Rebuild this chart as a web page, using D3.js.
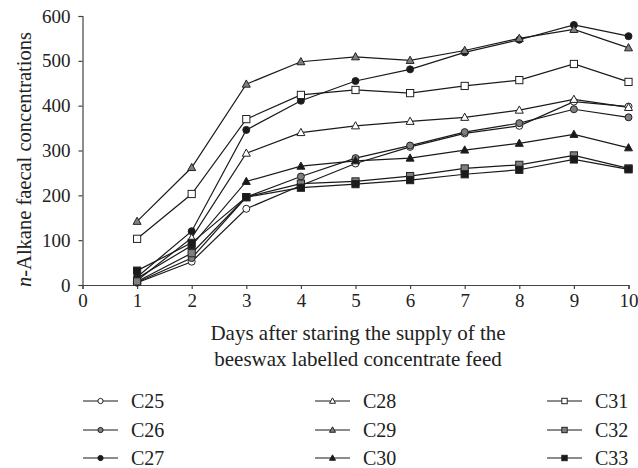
<!DOCTYPE html>
<html><head><meta charset="utf-8">
<script src="https://cdn.jsdelivr.net/npm/d3@7"></script>
<style>
body{margin:0;background:#fff;}
svg{display:block;font-family:"Liberation Serif","DejaVu Serif",serif;}
</style></head>
<body>
<svg id="c" width="638" height="468"></svg>
<script>
const days = [1,2,3,4,5,6,7,8,9,10];
const xTicks = [0,1,2,3,4,5,6,7,8,9,10];
const yTicks = [0,100,200,300,400,500,600];
const seriesNames = ["C25","C26","C27","C28","C29","C30","C31","C32","C33"];
const C25 = [5, 52, 170, 222, 271, 308, 338, 355, 409, 398];
const C26 = [6, 60, 196, 242, 283, 311, 341, 361, 392, 374];
const C27 = [18, 120, 346, 411, 455, 481, 519, 547, 580, 555];
const C28 = [10, 105, 294, 340, 355, 365, 374, 390, 414, 396];
const C29 = [142, 262, 448, 498, 509, 501, 523, 550, 570, 529];
const C30 = [15, 88, 231, 265, 277, 283, 301, 316, 336, 306];
const C31 = [103, 203, 370, 424, 435, 428, 444, 457, 493, 453];
const C32 = [8, 71, 196, 226, 231, 243, 260, 268, 289, 260];
const C33 = [32, 94, 196, 217, 225, 234, 247, 257, 280, 258];
const seriesValues = [C25,C26,C27,C28,C29,C30,C31,C32,C33];

// styles
const shapes = ["circle","circle","circle","triangle","triangle","triangle","square","square","square"];
const fills = ["#fff","#7f7f7f","#1a1a1a","#fff","#7f7f7f","#1a1a1a","#fff","#7f7f7f","#1a1a1a"];

const svg = d3.select("#c");
const x = d3.scaleLinear().domain([0,10]).range([82.5,628.5]);
const y = d3.scaleLinear().domain([0,600]).range([285,16]);

const axisColor = "#444";
const gx = svg.append("g").attr("transform","translate(0,285)")
  .call(d3.axisBottom(x).tickValues(xTicks).tickSize(4).tickPadding(5).tickFormat(d3.format("d")));
const gy = svg.append("g").attr("transform","translate(82.5,0)")
  .call(d3.axisLeft(y).tickValues(yTicks).tickSize(4).tickPadding(8).tickFormat(d3.format("d")));
[gx,gy].forEach(g=>{
  g.select(".domain").attr("stroke",axisColor).attr("stroke-width",1.2);
  g.selectAll(".tick line").attr("stroke",axisColor).attr("stroke-width",1.2);
  g.selectAll(".tick text").attr("font-size",19).attr("fill","#222")
    .attr("font-family","Liberation Serif, DejaVu Serif, serif");
});

function marker(sel, shape, fill, s){
  if(shape==="circle"){
    sel.append("circle").attr("r",s*3.5).attr("fill",fill).attr("stroke","#222").attr("stroke-width",1);
  } else if(shape==="square"){
    const h=s*3.6;
    sel.append("rect").attr("x",-h).attr("y",-h).attr("width",2*h).attr("height",2*h)
      .attr("fill",fill).attr("stroke","#222").attr("stroke-width",1);
  } else {
    const h=s*4.2;
    sel.append("path").attr("d",`M0,${-h}L${h*0.95},${h*0.72}L${-h*0.95},${h*0.72}Z`)
      .attr("fill",fill).attr("stroke","#222").attr("stroke-width",1);
  }
}

const line = d3.line().x((d,i)=>x(days[i])).y(d=>y(d));
const plot = svg.append("g");
seriesValues.forEach((vals,k)=>{
  plot.append("path").datum(vals).attr("d",line)
    .attr("fill","none").attr("stroke","#1a1a1a").attr("stroke-width",1.2);
});
seriesValues.forEach((vals,k)=>{
  vals.forEach((v,i)=>{
    const g = plot.append("g").attr("transform",`translate(${x(days[i])},${y(v)})`);
    marker(g, shapes[k], fills[k], 1);
  });
});

// axis titles
const yl = svg.append("text").attr("font-size",20.5).attr("fill","#222")
  .attr("text-anchor","start").attr("transform","translate(31,287) rotate(-90)");
yl.append("tspan").attr("font-style","italic").text("n");
yl.append("tspan").text("-Alkane faecal concentrations");

svg.append("text").attr("x",358).attr("y",340).attr("text-anchor","middle")
  .attr("font-size",21).attr("fill","#222").text("Days after staring the supply of the");
svg.append("text").attr("x",358).attr("y",366).attr("text-anchor","middle")
  .attr("font-size",21).attr("fill","#222").text("beeswax labelled concentrate feed");

// legend
const colX = [83, 315, 547];
const rowY = [401, 430, 458];
seriesNames.forEach((name,k)=>{
  const cx = colX[Math.floor(k/3)], cy = rowY[k%3];
  const g = svg.append("g").attr("transform",`translate(${cx},${cy})`);
  g.append("line").attr("x1",0).attr("x2",35).attr("y1",0).attr("y2",0)
    .attr("stroke","#1a1a1a").attr("stroke-width",1.2);
  const m = g.append("g").attr("transform","translate(17.5,0)");
  marker(m, shapes[k], fills[k], 0.75);
  g.append("text").attr("x",48).attr("y",6.5).attr("font-size",20).attr("fill","#222").text(name);
});
</script>
</body></html>
